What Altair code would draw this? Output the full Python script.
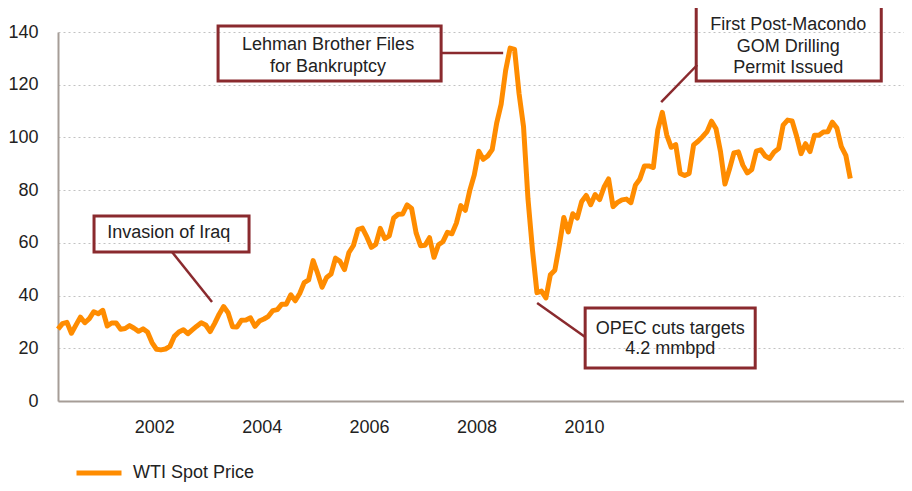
import altair as alt
import pandas as pd

# ---------------- data (monthly WTI spot price, Jan 2000 .. Oct 2014) ----------------
prices = [
    27.26, 29.37, 29.84, 25.72, 28.79, 31.82, 29.70, 31.26, 33.88, 33.11, 34.42, 28.44,  # 2000
    29.59, 29.61, 27.24, 27.49, 28.63, 27.60, 26.43, 27.37, 26.20, 22.17, 19.64, 19.39,  # 2001
    19.72, 20.72, 24.53, 26.18, 27.04, 25.52, 26.97, 28.39, 29.66, 28.84, 26.35, 29.46,  # 2002
    32.95, 35.83, 33.51, 28.17, 28.11, 30.66, 30.75, 31.57, 28.31, 30.34, 31.11, 32.13,  # 2003
    34.31, 34.69, 36.74, 36.75, 40.28, 38.03, 40.78, 44.90, 45.94, 53.28, 48.47, 43.15,  # 2004
    46.84, 48.15, 54.19, 52.98, 49.83, 56.35, 59.00, 64.99, 65.59, 62.26, 58.32, 59.41,  # 2005
    65.49, 61.63, 62.69, 69.44, 70.84, 70.95, 74.41, 73.04, 63.80, 58.89, 59.08, 61.96,  # 2006
    54.51, 59.28, 60.44, 63.98, 63.46, 67.49, 74.12, 72.36, 79.92, 85.80, 94.77, 91.69,  # 2007
    92.97, 95.39, 105.45, 112.58, 125.40, 133.88, 133.37, 116.67, 104.11, 76.61, 57.31, 41.12,  # 2008
    41.71, 39.09, 47.94, 49.65, 59.03, 69.64, 64.15, 71.05, 69.41, 75.72, 77.99, 74.47,  # 2009
    78.33, 76.39, 81.20, 84.29, 73.74, 75.34, 76.32, 76.60, 75.24, 81.89, 84.25, 89.15,  # 2010
    89.17, 88.58, 102.86, 109.53, 100.90, 96.26, 97.30, 86.33, 85.52, 86.32, 97.16, 98.56,  # 2011
    100.27, 102.20, 106.16, 103.32, 94.66, 82.30, 87.90, 94.13, 94.51, 89.49, 86.53, 87.86,  # 2012
    94.76, 95.31, 92.94, 92.02, 94.51, 95.77, 104.67, 106.57, 106.29, 100.54, 93.86, 97.63,  # 2013
    94.62, 100.82, 100.80, 102.07, 102.18, 105.79, 103.59, 96.54, 93.21, 84.40,  # 2014
]
series_name = "WTI Spot Price"

x_tick_positions = [21.5, 45.5, 69.5, 93.5, 117.5]   # month index where labels sit
x_tick_labels = ["2002", "2004", "2006", "2008", "2010"]
y_ticks = [0, 20, 40, 60, 80, 100, 120, 140]

# annotations (month index / price coordinates)
box_x = [8.05, 35.76, 142.58, 117.77]
box_x2 = [42.68, 85.59, 183.92, 155.76]
box_y = [70.19, 142.28, 150.24, 35.28]
box_y2 = [56.53, 121.41, 121.41, 12.52]

note_lines = ["Invasion of Iraq",
              "Lehman Brother Files", "for Bankruptcy",
              "First Post-Macondo", "GOM Drilling", "Permit Issued",
              "OPEC cuts targets", "4.2 mmbpd"]
note_x = [24.74, 60.34, 60.34, 163.14, 163.14, 163.14, 136.77, 136.77]
note_y = [63.74, 135.07, 126.72, 142.66, 134.42, 126.23, 27.32, 19.73]

conn_x = [25.48, 85.59, 142.80, 117.77]
conn_y = [56.53, 132.03, 127.48, 24.28]
conn_x2 = [34.41, 99.45, 134.75, 107.04]
conn_y2 = [37.56, 132.03, 113.44, 37.18]

# ---------------- tables ----------------
df = pd.DataFrame({"month": list(range(len(prices))), "price": prices, "series": series_name})
boxes = pd.DataFrame({"x": box_x, "x2": box_x2, "y": box_y, "y2": box_y2})
notes = pd.DataFrame({"x": note_x, "y": note_y, "text": note_lines})
conns = pd.DataFrame({"x": conn_x, "x2": conn_x2, "y": conn_y, "y2": conn_y2})

FONT = "Liberation Sans"
TXT = "#222222"
RED = "#8A2A2E"
AXIS = "#A69D97"

label_expr = "{" + ",".join(f"'{p}':'{l}'" for p, l in zip(x_tick_positions, x_tick_labels)) + "}[datum.value]"

x_scale = alt.Scale(domain=[0, 189], nice=False, zero=False)
y_scale = alt.Scale(domain=[0, 140], nice=False)

line = alt.Chart(df).mark_line(strokeWidth=5, strokeJoin="round").encode(
    x=alt.X("month:Q", scale=x_scale,
            axis=alt.Axis(values=x_tick_positions, labelExpr=label_expr, title=None, grid=False,
                          ticks=False, labelPadding=17, domainColor=AXIS, domainWidth=2,
                          labelFontSize=18, labelColor=TXT, labelFont=FONT)),
    y=alt.Y("price:Q", scale=y_scale,
            axis=alt.Axis(values=y_ticks, title=None, grid=True, gridDash=[2, 3], gridColor="#C2C2C2",
                          gridWidth=1, ticks=False, labelPadding=20, domainColor=AXIS, domainWidth=2,
                          labelFontSize=18, labelColor=TXT, labelFont=FONT)),
    color=alt.Color("series:N", scale=alt.Scale(domain=[series_name], range=["#FF8C00"]),
                    legend=alt.Legend(title=None, orient="none", legendX=16, legendY=416,
                                      symbolType="stroke", symbolStrokeWidth=5, symbolSize=2025,
                                      labelFontSize=18, labelFont=FONT, labelColor=TXT,
                                      labelOffset=9, padding=0)),
)

rects = alt.Chart(boxes).mark_rect(fillOpacity=0, stroke=RED, strokeWidth=3).encode(
    x="x:Q", x2="x2:Q", y="y:Q", y2="y2:Q")

rules = alt.Chart(conns).mark_rule(color=RED, strokeWidth=2.5).encode(
    x="x:Q", x2="x2:Q", y="y:Q", y2="y2:Q")

texts = alt.Chart(notes).mark_text(align="center", baseline="middle", fontSize=18,
                                    font=FONT, color=TXT).encode(
    x="x:Q", y="y:Q", text="text:N")

chart = alt.layer(line, rules, rects, texts).properties(
    width=846, height=369,
    autosize=alt.AutoSizeParams(type="none"),
    padding={"left": 50, "top": 24, "right": 0, "bottom": 82},
).configure_view(stroke=None)

chart.save("out.html", embed_options={"renderer": "svg", "actions": False})
